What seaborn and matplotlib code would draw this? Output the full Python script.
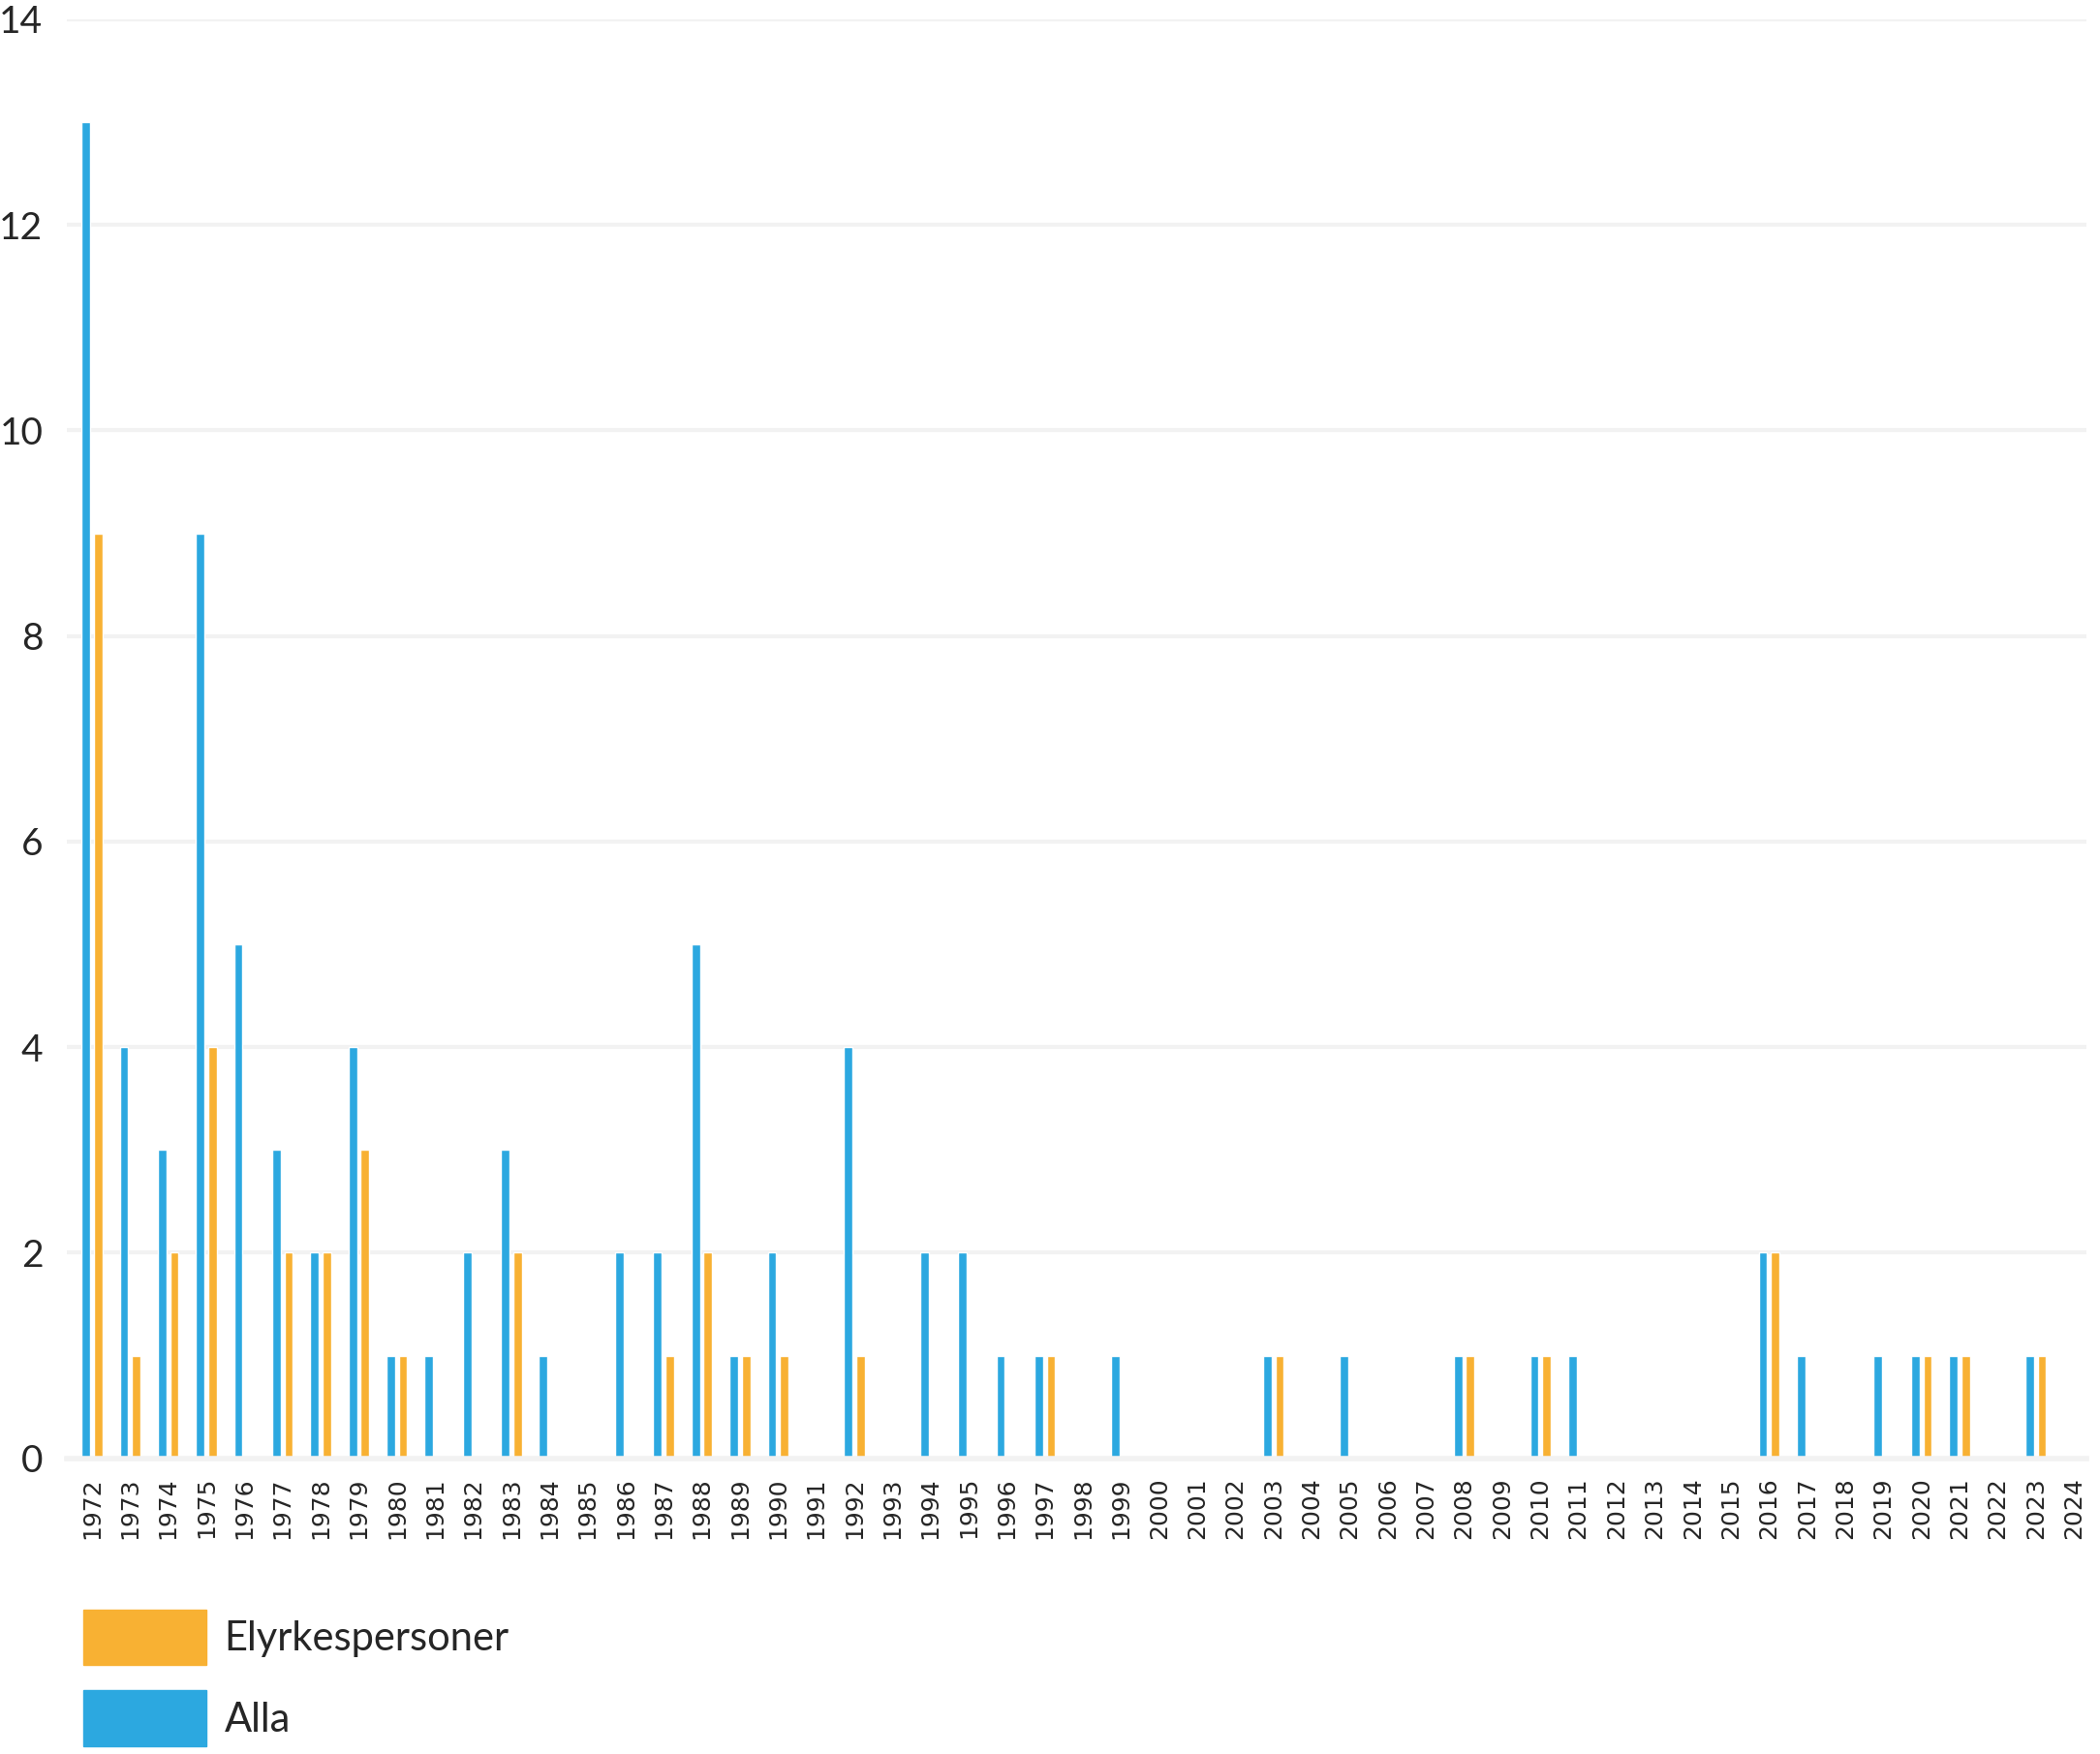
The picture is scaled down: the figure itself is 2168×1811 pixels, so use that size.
import pandas as pd
import numpy as np
import matplotlib.pyplot as plt
import seaborn as sns
from matplotlib.patches import Patch

# Values
years = [str(y) for y in range(1972, 2025)]
alla = [13, 4, 3, 9, 5, 3, 2, 4, 1, 1,
        2, 3, 1, 0, 2, 2, 5, 1, 2, 0,
        4, 0, 2, 2, 1, 1, 0, 1, 0, 0,
        0, 1, 0, 1, 0, 0, 1, 0, 1, 1,
        0, 0, 0, 0, 2, 1, 0, 1, 1, 1,
        0, 1, 0]
elyrke = [9, 1, 2, 4, 0, 2, 2, 3, 1, 0,
          0, 2, 0, 0, 0, 1, 2, 1, 1, 0,
          1, 0, 0, 0, 0, 1, 0, 0, 0, 0,
          0, 1, 0, 0, 0, 0, 1, 0, 1, 0,
          0, 0, 0, 0, 2, 0, 0, 0, 1, 1,
          0, 1, 0]
series_names = ['Alla', 'Elyrkespersoner']
colors = {'Alla': '#2CA8E0', 'Elyrkespersoner': '#F8B133'}

df = pd.DataFrame({
    'year': years * 2,
    'series': ['Alla'] * len(years) + ['Elyrkespersoner'] * len(years),
    'value': alla + elyrke,
})

sns.set_style('white')
plt.rcParams['font.family'] = ['Lato', 'DejaVu Sans']

fig = plt.figure(figsize=(21.68, 18.11), dpi=100)
ax = fig.add_axes([0.032, 0.1686, 0.9616, 0.8204])

sns.barplot(data=df, x='year', y='value', hue='series', hue_order=series_names,
            palette=colors, width=0.64, gap=0.3, errorbar=None, legend=False,
            saturation=1, ax=ax)

ax.set_ylim(0, 14)
ax.set_xlim(-0.65, len(years) - 0.67)
ax.set_yticks(range(0, 15, 2))
ax.set_xlabel('')
ax.set_ylabel('')
ax.yaxis.grid(True, color='#F2F2F2', linewidth=3)
ax.set_axisbelow(True)
for side in ['top', 'right', 'left']:
    ax.spines[side].set_visible(False)
ax.spines['bottom'].set_color('#F2F2F2')
ax.spines['bottom'].set_linewidth(4)
ax.tick_params(axis='both', length=0)
ax.tick_params(axis='y', labelsize=28, pad=18)
ax.tick_params(axis='x', pad=14)
for lbl in ax.get_xticklabels():
    lbl.set_rotation(90)
    lbl.set_fontfamily('DejaVu Sans')
    lbl.set_fontsize(18)

handles = [Patch(color=colors['Elyrkespersoner']), Patch(color=colors['Alla'])]
fig.legend(handles, ['Elyrkespersoner', 'Alla'], loc='upper left',
           bbox_to_anchor=(0.0395, 0.0824), frameon=False, fontsize=30,
           borderpad=0, borderaxespad=0, handlelength=3.05, handleheight=1.75,
           labelspacing=0.62, handletextpad=0.45)

fig.savefig('out.png', dpi=100)
